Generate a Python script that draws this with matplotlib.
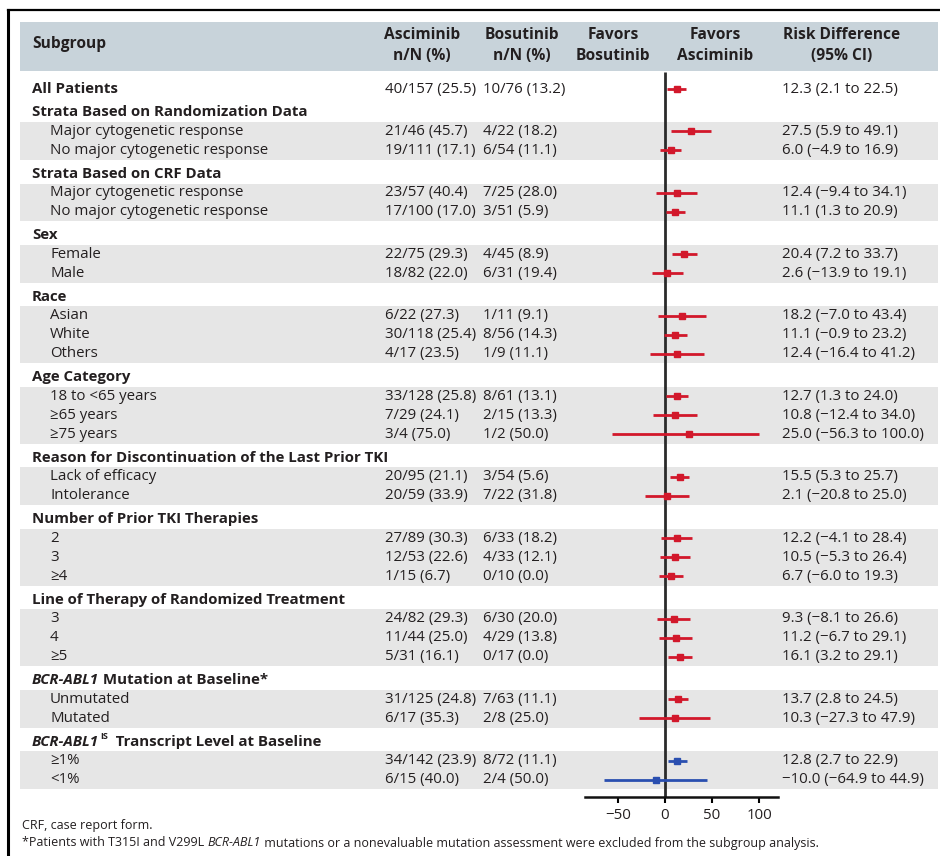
import matplotlib.pyplot as plt
from matplotlib.lines import Line2D
from matplotlib.patches import Rectangle
from matplotlib.transforms import blended_transform_factory

plt.rcParams['font.family'] = ['Open Sans', 'DejaVu Sans']

# Rows of the table: 0 = overall, 1 = section heading, 2 = subgroup
row_labels = [
    "All Patients",
    "Strata Based on Randomization Data",
    "Major cytogenetic response", "No major cytogenetic response",
    "Strata Based on CRF Data",
    "Major cytogenetic response", "No major cytogenetic response",
    "Sex", "Female", "Male",
    "Race", "Asian", "White", "Others",
    "Age Category", "18 to <65 years", "≥65 years", "≥75 years",
    "Reason for Discontinuation of the Last Prior TKI",
    "Lack of efficacy", "Intolerance",
    "Number of Prior TKI Therapies", "2", "3", "≥4",
    "Line of Therapy of Randomized Treatment", "3", "4", "≥5",
    "BCR-ABL1 Mutation at Baseline*", "Unmutated", "Mutated",
    "BCR-ABL1^IS Transcript Level at Baseline", "≥1%", "<1%",
]
row_level = [0, 1, 2, 2, 1, 2, 2, 1, 2, 2, 1, 2, 2, 2, 1, 2, 2, 2,
             1, 2, 2, 1, 2, 2, 2, 1, 2, 2, 2, 1, 2, 2, 1, 2, 2]

# Values for the overall row and each subgroup, top to bottom
asc_n = [40, 21, 19, 23, 17, 22, 18, 6, 30, 4, 33, 7, 3, 20, 20,
         27, 12, 1, 24, 11, 5, 31, 6, 34, 6]
asc_N = [157, 46, 111, 57, 100, 75, 82, 22, 118, 17, 128, 29, 4, 95, 59,
         89, 53, 15, 82, 44, 31, 125, 17, 142, 15]
bos_n = [10, 4, 6, 7, 3, 4, 6, 1, 8, 1, 8, 2, 1, 3, 7,
         6, 4, 0, 6, 4, 0, 7, 2, 8, 2]
bos_N = [76, 22, 54, 25, 51, 45, 31, 11, 56, 9, 61, 15, 2, 54, 22,
         33, 33, 10, 30, 29, 17, 63, 8, 72, 4]
rd_est = [12.3, 27.5, 6.0, 12.4, 11.1, 20.4, 2.6, 18.2, 11.1, 12.4, 12.7, 10.8,
          25.0, 15.5, 2.1, 12.2, 10.5, 6.7, 9.3, 11.2, 16.1, 13.7, 10.3, 12.8, -10.0]
rd_lo = [2.1, 5.9, -4.9, -9.4, 1.3, 7.2, -13.9, -7.0, -0.9, -16.4, 1.3, -12.4,
         -56.3, 5.3, -20.8, -4.1, -5.3, -6.0, -8.1, -6.7, 3.2, 2.8, -27.3, 2.7, -64.9]
rd_hi = [22.5, 49.1, 16.9, 34.1, 20.9, 33.7, 19.1, 43.4, 23.2, 41.2, 24.0, 34.0,
         100.0, 25.7, 25.0, 28.4, 26.4, 19.3, 26.6, 29.1, 29.1, 24.5, 47.9, 22.9, 44.9]
x_ticks = [-50, 0, 50, 100]

W, H = 940, 856
TXT = '#231f20'
RED = '#d2182b'
BLUE = '#2a4fb0'
FS = 10.8
FH = 11.2
FN = 9.0

fig = plt.figure(figsize=(W / 100, H / 100), dpi=100)
axis_y = 797
ax = fig.add_axes([585 / W, (H - axis_y) / H, (778 - 585) / W, axis_y / H])
ax.set_xlim(-85, 120)
ax.set_ylim(axis_y, 0)
for s in ('top', 'left', 'right'):
    ax.spines[s].set_visible(False)
ax.spines['bottom'].set_linewidth(1.8)
ax.spines['bottom'].set_color('#111111')
ax.set_yticks([])
ax.set_xticks(x_ticks)
ax.set_xticklabels([f"{t:g}".replace('-', '−') for t in x_ticks])
ax.tick_params(axis='x', direction='out', length=4, width=1.5, pad=4,
               labelsize=FS, labelcolor=TXT)
ax.patch.set_visible(False)

tr = blended_transform_factory(fig.transFigure, ax.transData)


def fx(px):
    return px / W


# row positions, with a little extra space before each section heading
ys = []
y = 89
for i, lvl in enumerate(row_level):
    if i > 0:
        y += 19.05 + (4.3 if lvl == 1 else 0)
    ys.append(y)

# frame lines
fig.add_artist(Line2D([fx(8), 1], [1 - 10 / H, 1 - 10 / H], color='black', lw=1.6))
fig.add_artist(Line2D([fx(8), fx(8)], [0, 1 - 10 / H], color='black', lw=2.2))

# header band
ax.add_patch(Rectangle((fx(20), 22), fx(938) - fx(20), 49, transform=tr,
                       facecolor='#c8d3da', edgecolor='none', clip_on=False, zorder=0))

# gray bands behind each group of subgroup rows
i = 0
while i < len(row_level):
    if row_level[i] == 2:
        j = i
        while j + 1 < len(row_level) and row_level[j + 1] == 2:
            j += 1
        ax.add_patch(Rectangle((fx(20), ys[i] - 9.3), fx(938) - fx(20),
                               ys[j] - ys[i] + 18.6, transform=tr,
                               facecolor='#e6e6e6', edgecolor='none',
                               clip_on=False, zorder=0))
        i = j + 1
    else:
        i += 1

# column headings
hdr = dict(transform=tr, fontsize=FH, fontweight='bold', color=TXT, va='center')
ax.text(fx(32), 44, "Subgroup", ha='left', **hdr)
for cx, l1, l2 in [(422, "Asciminib", "n/N (%)"), (522, "Bosutinib", "n/N (%)"),
                   (613, "Favors", "Bosutinib"), (715, "Favors", "Asciminib"),
                   (842, "Risk Difference", "(95% CI)")]:
    ax.text(fx(cx), 35, l1, ha='center', **hdr)
    ax.text(fx(cx), 56, l2, ha='center', **hdr)


def chain(prev, s, y, **kw):
    return ax.annotate(s, xy=(1, y), xycoords=(prev, tr), annotation_clip=False,
                       color=TXT, **kw)


def fmt(v):
    return f"{v:.1f}".replace('-', '−')


# subgroup labels
for lbl, lvl, y in zip(row_labels, row_level, ys):
    if lvl == 2:
        ax.text(fx(50), y, lbl, transform=tr, fontsize=FS, color=TXT, va='center')
    elif lbl.startswith("BCR-ABL1"):
        t = ax.text(fx(32), y, "BCR-ABL1", transform=tr, fontsize=FS, color=TXT,
                    va='center', fontweight='bold', style='italic')
        rest = lbl[len("BCR-ABL1"):]
        if rest.startswith("^IS"):
            t = chain(t, "IS", y, xytext=(0.8, 3.8), textcoords='offset points',
                      fontsize=6.5, fontweight='bold', va='center')
            rest = " " + rest[3:]
        chain(t, rest, y, fontsize=FS, fontweight='bold', va='center')
    else:
        ax.text(fx(32), y, lbl, transform=tr, fontsize=FS, color=TXT, va='center',
                fontweight='bold')

# numbers and forest marks
data_ys = [y for y, lvl in zip(ys, row_level) if lvl != 1]
n_rows = len(data_ys)
for k, y in enumerate(data_ys):
    ax.text(fx(385), y, f"{asc_n[k]}/{asc_N[k]} ({100 * asc_n[k] / asc_N[k]:.1f})",
            transform=tr, fontsize=FS, color=TXT, va='center')
    ax.text(fx(483), y, f"{bos_n[k]}/{bos_N[k]} ({100 * bos_n[k] / bos_N[k]:.1f})",
            transform=tr, fontsize=FS, color=TXT, va='center')
    ax.text(fx(782), y, f"{fmt(rd_est[k])} ({fmt(rd_lo[k])} to {fmt(rd_hi[k])})",
            transform=tr, fontsize=FS, color=TXT, va='center')
    c = BLUE if k >= n_rows - 2 else RED
    ax.hlines(y, rd_lo[k], rd_hi[k], color=c, lw=2, zorder=3)
    ax.plot(rd_est[k], y, 's', color=c, ms=5, zorder=4)

# line of no difference
ax.vlines(0, 72, axis_y, color='#2b2b2b', lw=2, zorder=2)

# footnotes
fn = dict(transform=tr, fontsize=FN, color=TXT, va='center')
ax.text(fx(22), 826, "CRF, case report form.", **fn)
t = ax.text(fx(22), 843, "*Patients with T315I and V299L ", **fn)
t = chain(t, "BCR-ABL1", 843, fontsize=FN, style='italic', va='center')
chain(t, " mutations or a nonevaluable mutation assessment were excluded from "
         "the subgroup analysis.", 843, fontsize=FN, va='center')

fig.savefig('out.png', dpi=100)
